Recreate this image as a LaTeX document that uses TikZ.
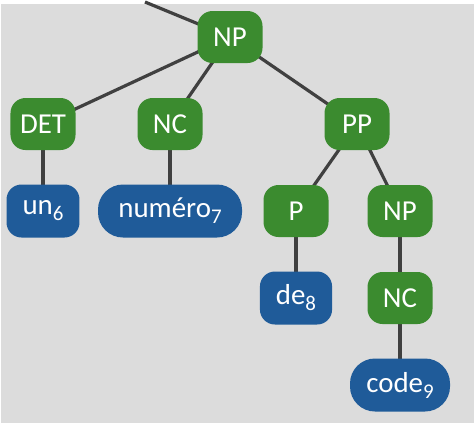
\documentclass[tikz,border=0pt]{standalone}
\usepackage{fontspec}
\setmainfont{Carlito}
\usepackage{tikz}
\usetikzlibrary{backgrounds}

\definecolor{phrasegreen}{RGB}{59,139,47}
\definecolor{wordblue}{RGB}{31,91,153}
\definecolor{edgegray}{RGB}{64,64,64}
\definecolor{panelgray}{RGB}{220,220,220}

\newcommand{\idx}[1]{\raisebox{-6bp}{\fontsize{21}{21}\selectfont #1}}

\begin{document}
\begin{tikzpicture}[
    x=1bp, y=-1bp,
    phrase/.style={fill=phrasegreen, text=white, rounded corners=15bp, minimum width=65bp, minimum height=52bp, inner sep=0pt, font=\fontsize{29}{32}\selectfont},
    word/.style={fill=wordblue, text=white, rounded corners=15bp, minimum width=65bp, minimum height=53bp, inner xsep=16bp, inner ysep=0pt, font=\fontsize{29}{32}\selectfont},
    wideword/.style={word, rounded corners=25bp},
    edge/.style={draw=edgegray, line width=3.2bp}
]
\useasboundingbox (0,0) rectangle (475,425);

\pgfmathsetmacro{\levelgap}{87}
\pgfmathsetmacro{\ytop}{37}

% Level 0
\node[phrase] (np) at (230, \ytop) {NP};
\coordinate (up) at (145, 2);

% Level 1
\node[phrase] (det) at (43, \ytop + \levelgap) {DET};
\node[phrase] (nc) at (170, \ytop + \levelgap) {NC};
\node[phrase] (pp) at (357, \ytop + \levelgap) {PP};

% Level 2
\node[word] (un) at (43, \ytop + 2*\levelgap) {un\idx{6}};
\node[wideword, minimum width=144bp] (numero) at (170, \ytop + 2*\levelgap) {numéro\idx{7}};
\node[phrase] (p) at (296, \ytop + 2*\levelgap) {P};
\node[phrase] (npb) at (400, \ytop + 2*\levelgap) {NP};

% Level 3
\node[word] (de) at (296, \ytop + 3*\levelgap) {de\idx{8}};
\node[phrase] (ncb) at (400, \ytop + 3*\levelgap) {NC};

% Level 4
\node[wideword, minimum width=100bp] (code) at (400, \ytop + 4*\levelgap) {code\idx{9}};

% Panel and edges
\begin{pgfonlayer}{background}
\fill[panelgray] (1,4) rectangle (474,423);
\draw[edge] (up) -- (np.center);
\draw[edge] (np.center) -- (det.center);
\draw[edge] (np.center) -- (nc.center);
\draw[edge] (np.center) -- (pp.center);
\draw[edge] (det.center) -- (un.center);
\draw[edge] (nc.center) -- (numero.center);
\draw[edge] (pp.center) -- (p.center);
\draw[edge] (pp.center) -- (npb.center);
\draw[edge] (p.center) -- (de.center);
\draw[edge] (npb.center) -- (ncb.center);
\draw[edge] (ncb.center) -- (code.center);
\end{pgfonlayer}
\end{tikzpicture}
\end{document}
